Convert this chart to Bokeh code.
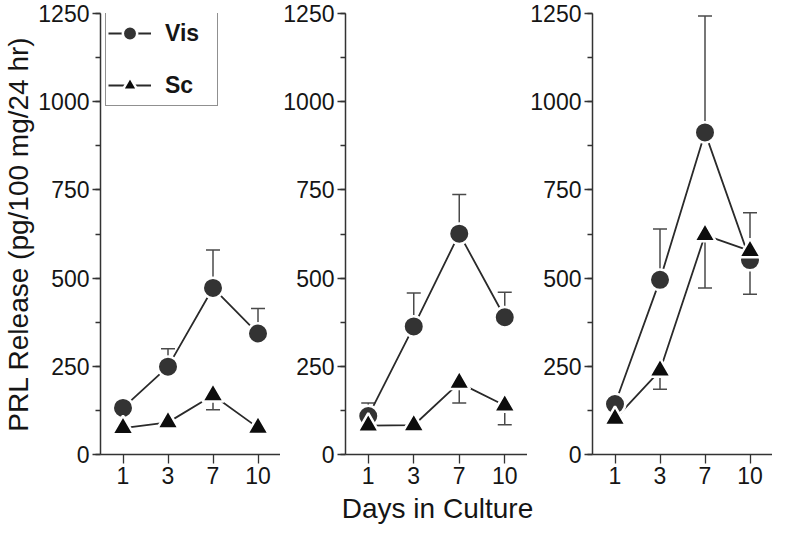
from bokeh.plotting import figure
from bokeh.layouts import row, column
from bokeh.models import FactorRange, Range1d, SingleIntervalTicker, Legend, LegendItem
from bokeh.core.properties import value
from bokeh.embed import file_html
from bokeh.resources import INLINE

# ---------------- data ----------------
days = ["1", "3", "7", "10"]

# PRL release (pg/100 mg/24 hr), three panels
vis_a = [132, 249, 472, 343]
vis_b = [109, 363, 626, 389]
vis_c = [143, 495, 913, 551]
sc_a = [75, 91, 168, 76]
sc_b = [82, 83, 203, 139]
sc_c = [101, 238, 622, 577]

# one-sided error bars: + drawn upward, - drawn downward, 0 = none shown
vis_err_a = [0, 51, 108, 71]
vis_err_b = [37, 95, 111, 71]
vis_err_c = [0, 144, 330, -97]
sc_err_a = [0, 0, -41, 0]
sc_err_b = [0, 0, -57, -55]
sc_err_c = [0, -53, -150, 108]

y_ticks_step = 250
y_max = 1250

y_title = "PRL Release (pg/100 mg/24 hr)"
x_title = "Days in Culture"

FONT = "Liberation Sans"
AXIS_COL = "#333333"
TXT_COL = "#151515"
LINE_COL = "#2a2a2a"
ERR_COL = "#4a4a4a"

PANEL_H = 492
BORDER_B = 38
FRAME_W = 183


def add_errors(p, vals, errs):
    xs = [d for d, e in zip(days, errs) if e != 0]
    y0 = [v for v, e in zip(vals, errs) if e != 0]
    y1 = [v + e for v, e in zip(vals, errs) if e != 0]
    p.segment(x0=xs, y0=y0, x1=xs, y1=y1, line_color=ERR_COL, line_width=1.5)
    p.scatter(x=xs, y=y1, marker="dash", size=14, line_color=ERR_COL, line_width=1.5)


def make_panel(vis, vis_err, sc, sc_err, bl, br, ylabel=None, legend=False):
    w = bl + FRAME_W + br
    p = figure(x_range=FactorRange(*days), y_range=Range1d(0, y_max),
               width=w, height=PANEL_H, output_backend="svg", toolbar_location=None,
               min_border_left=bl, min_border_right=br, min_border_top=13,
               min_border_bottom=BORDER_B, background_fill_color="white",
               border_fill_color="white")
    p.xgrid.visible = False
    p.ygrid.visible = False
    p.outline_line_color = None

    add_errors(p, vis, vis_err)
    add_errors(p, sc, sc_err)

    vl = p.line(days, vis, line_color=LINE_COL, line_width=1.8)
    sl = p.line(days, sc, line_color=LINE_COL, line_width=1.8)
    vm = p.scatter(days, vis, marker="circle", size=20.5, fill_color="#333333",
                   line_color="white", line_width=2.5)
    sm = p.scatter(days, sc, marker="triangle", size=21.5, fill_color="#0d0d0d",
                   line_color="white", line_width=2.5)

    p.yaxis.ticker = SingleIntervalTicker(interval=y_ticks_step, num_minor_ticks=2)
    for ax in (p.xaxis[0], p.yaxis[0]):
        ax.axis_line_color = AXIS_COL
        ax.axis_line_width = 1.5
        ax.major_tick_line_color = AXIS_COL
        ax.major_tick_line_width = 1.3
        ax.major_tick_in = 0
        ax.major_label_text_font = FONT
        ax.major_label_text_font_size = "23px"
        ax.major_label_text_color = TXT_COL
        ax.axis_label_text_font = FONT
        ax.axis_label_text_font_style = "normal"
        ax.axis_label_text_font_size = "28px"
        ax.axis_label_text_color = TXT_COL
    p.yaxis.major_tick_out = 8
    p.yaxis.minor_tick_out = 5
    p.yaxis.minor_tick_in = 0
    p.yaxis.minor_tick_line_color = AXIS_COL
    p.yaxis.minor_tick_line_width = 1.3
    p.yaxis.major_label_standoff = 3
    p.xaxis.major_tick_out = 9
    p.xaxis.major_label_standoff = 3
    if ylabel:
        p.yaxis.axis_label = ylabel
        p.yaxis.axis_label_standoff = 1

    if legend:
        frame_bottom = PANEL_H - BORDER_B
        lg = Legend(items=[LegendItem(label="Vis", renderers=[vl, vm]),
                           LegendItem(label="Sc", renderers=[sl, sm])],
                    location=(5, frame_bottom - 106))
        lg.glyph_width = 43
        lg.glyph_height = 36
        lg.label_height = 36
        lg.label_width = 50
        lg.label_standoff = 14
        lg.spacing = 16
        lg.padding = 2
        lg.margin = 0
        lg.label_text_font = FONT
        lg.label_text_font_style = "bold"
        lg.label_text_font_size = "23px"
        lg.label_text_color = TXT_COL
        lg.border_line_color = "#222222"
        lg.border_line_width = 1.2
        lg.background_fill_color = "white"
        lg.background_fill_alpha = 1.0
        p.add_layout(lg)
    return p


p1 = make_panel(vis_a, vis_err_a, sc_a, sc_err_a, 97, 0, ylabel=y_title, legend=True)
p2 = make_panel(vis_b, vis_err_b, sc_b, sc_err_b, 64, 0)
p3 = make_panel(vis_c, vis_err_c, sc_c, sc_err_c, 62, 0)

# shared x-axis title strip
STRIP_H = 32
pl = figure(width=772, height=STRIP_H, x_range=Range1d(0, 772), y_range=Range1d(0, STRIP_H),
            output_backend="svg", toolbar_location=None, min_border=0,
            background_fill_color="white", border_fill_color="white")
pl.axis.visible = False
pl.xgrid.visible = False
pl.ygrid.visible = False
pl.outline_line_color = None
pl.text(x=[437], y=[1], text=[x_title], text_align="center", text_baseline="bottom",
        text_font=value(FONT), text_font_size="28px", text_color=TXT_COL)

layout = column(row(p1, p2, p3), pl)
open("out.html", "w").write(file_html(layout, INLINE))
